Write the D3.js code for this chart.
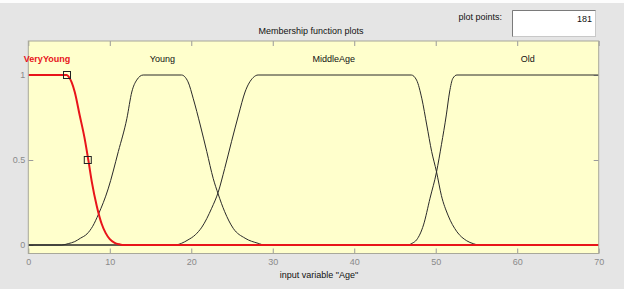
<!DOCTYPE html>
<html>
<head>
<meta charset="utf-8">
<script src="https://cdn.jsdelivr.net/npm/d3@7"></script>
<style>
  body { margin: 0; background: #e5e5e5; }
  svg { display: block; font-family: "Liberation Sans", Arial, sans-serif; }
</style>
</head>
<body>
<div id="app"></div>
<script>
// membership functions of input variable "Age"
const mfNames = ["VeryYoung", "Young", "MiddleAge", "Old"]
const mfLabelAt = [2.3, 16.45, 37.5, 61.3]

const veryYoungX = [0, 4.7, 4.95, 5.7, 6.3, 6.9, 7.4, 7.8, 8.4, 9.0, 9.5, 10.0, 10.6, 11.2, 11.7, 70]
const veryYoungY = [1, 1, 0.99, 0.90, 0.765, 0.63, 0.49, 0.37, 0.23, 0.125, 0.07, 0.035, 0.013, 0.004, 0, 0]

const youngX = [0, 4.1, 4.9, 5.7, 6.4, 7.2, 7.9, 8.6, 9.8, 11.05, 12.1, 12.7, 13.3, 14.1, 18.8, 19.6, 20.25, 21.1, 21.9, 22.7, 23.3, 24.1, 25.15, 26.6, 28.2, 29.0, 70]
const youngY = [0, 0, 0.008, 0.02, 0.04, 0.065, 0.11, 0.18, 0.33, 0.55, 0.745, 0.90, 0.97, 1, 1, 0.96, 0.86, 0.706, 0.55, 0.39, 0.30, 0.196, 0.098, 0.04, 0.01, 0, 0]

const middleAgeX = [0, 18.0, 18.8, 19.6, 20.5, 21.3, 22.5, 23.3, 24.1, 24.95, 25.8, 26.6, 27.6, 28.2, 47.0, 47.65, 48.3, 48.9, 49.5, 50.1, 50.7, 51.5, 52.6, 53.8, 54.6, 55.3, 70]
const middleAgeY = [0, 0, 0.01, 0.03, 0.06, 0.105, 0.216, 0.31, 0.45, 0.61, 0.765, 0.90, 0.985, 1, 1, 0.97, 0.86, 0.706, 0.55, 0.43, 0.29, 0.176, 0.078, 0.025, 0.008, 0, 0]

const oldX = [0, 46.6, 47.1, 47.65, 48.5, 49.3, 50.1, 50.7, 51.3, 51.7, 52.1, 52.6, 70]
const oldY = [0, 0, 0.01, 0.03, 0.118, 0.275, 0.43, 0.59, 0.765, 0.90, 0.98, 1, 1]

// handles of the selected MF
const handleX = [4.75, 7.3]
const handleY = [1, 0.5]

const xTicks = [0, 10, 20, 30, 40, 50, 60, 70]
const yTicks = [0, 0.5, 1]
const plotPoints = 181

const width = 624
const height = 289
const marginTop = 41
const marginBottom = 35.5
const marginLeft = 28.3
const marginRight = 25.3

const x = d3.scaleLinear()
  .domain([0, 70])
  .range([marginLeft, width - marginRight])

const y = d3.scaleLinear()
  .domain([-0.05, 1.2])
  .range([height - marginBottom, marginTop])

const svg = d3.select("#app")
  .append("svg")
  .attr("width", width)
  .attr("height", height)

// white strip along the top of the window
svg.append("rect")
  .attr("width", width).attr("height", 3)
  .attr("fill", "#fdfdfd")

// plot area
svg.append("rect")
  .attr("x", x(0)).attr("y", y(1.2))
  .attr("width", x(70) - x(0)).attr("height", y(-0.05) - y(1.2))
  .attr("fill", "#ffffcc")

svg.append("text")
  .attr("x", 311).attr("y", 34)
  .attr("text-anchor", "middle")
  .attr("font-size", 9)
  .attr("fill", "#111")
  .text("Membership function plots")

// plot points box
svg.append("text")
  .attr("x", 502).attr("y", 20)
  .attr("text-anchor", "end")
  .attr("font-size", 9)
  .attr("fill", "#111")
  .text("plot points:")
svg.append("rect")
  .attr("x", 512.5).attr("y", 10.5).attr("width", 83).attr("height", 26)
  .attr("fill", "#fff").attr("stroke", "#c8c8c8")
svg.append("path")
  .attr("d", "M512.5,36.5V10.5H595.5")
  .attr("fill", "none").attr("stroke", "#7a7a7a")
svg.append("text")
  .attr("x", 592).attr("y", 22)
  .attr("text-anchor", "end")
  .attr("font-size", 9)
  .attr("fill", "#111")
  .text(plotPoints)

// axes, ticks pointing inwards
const styleAxis = g => {
  g.select(".domain").remove()
  g.selectAll(".tick line").attr("stroke", "#9a9a9a")
  g.selectAll(".tick text").attr("fill", "#8a8a8a").attr("font-size", 9).attr("font-family", null)
}

svg.append("g")
  .attr("transform", `translate(0,${y(-0.05)})`)
  .call(d3.axisBottom(x).tickValues(xTicks).tickSize(-5).tickPadding(5).tickFormat(d => String(d)))
  .call(styleAxis)
svg.append("g")
  .attr("transform", `translate(0,${y(1.2)})`)
  .call(d3.axisTop(x).tickValues(xTicks).tickSize(-5).tickFormat(""))
  .call(styleAxis)
svg.append("g")
  .attr("transform", `translate(${x(0)},0)`)
  .call(d3.axisLeft(y).tickValues(yTicks).tickSize(-5).tickPadding(3).tickFormat(d => String(d)))
  .call(styleAxis)
svg.append("g")
  .attr("transform", `translate(${x(70)},0)`)
  .call(d3.axisRight(y).tickValues(yTicks).tickSize(-5).tickFormat(""))
  .call(styleAxis)

svg.append("text")
  .attr("x", 319).attr("y", 278)
  .attr("text-anchor", "middle")
  .attr("font-size", 9)
  .attr("fill", "#111")
  .text('input variable "Age"')

// curves
const line = d3.line()
  .x(d => x(d[0]))
  .y(d => y(d[1]))
  .curve(d3.curveMonotoneX)

const series = [
  d3.zip(veryYoungX, veryYoungY),
  d3.zip(youngX, youngY),
  d3.zip(middleAgeX, middleAgeY),
  d3.zip(oldX, oldY)
]
const selected = 0

series.forEach((pts, i) => {
  if (i === selected) return
  svg.append("path")
    .datum(pts)
    .attr("d", line)
    .attr("fill", "none")
    .attr("stroke", "#2a2a2a")
    .attr("stroke-width", 1)
})
svg.append("path")
  .datum(series[selected])
  .attr("d", line)
  .attr("fill", "none")
  .attr("stroke", "#e8141a")
  .attr("stroke-width", 2)

// box outline on top
svg.append("rect")
  .attr("x", x(0)).attr("y", y(1.2))
  .attr("width", x(70) - x(0)).attr("height", y(-0.05) - y(1.2))
  .attr("fill", "none").attr("stroke", "#a8a89a")

svg.selectAll(".handle")
  .data(d3.zip(handleX, handleY))
  .join("rect")
  .attr("class", "handle")
  .attr("x", d => x(d[0]) - 3.5)
  .attr("y", d => y(d[1]) - 3.5)
  .attr("width", 7).attr("height", 7)
  .attr("fill", "none")
  .attr("stroke", "#222")

svg.selectAll(".mflabel")
  .data(mfNames)
  .join("text")
  .attr("class", "mflabel")
  .attr("x", (d, i) => x(mfLabelAt[i]))
  .attr("y", y(1.1) + 3.5)
  .attr("text-anchor", "middle")
  .attr("font-size", 9)
  .attr("font-weight", (d, i) => i === selected ? "bold" : null)
  .attr("fill", (d, i) => i === selected ? "#e8141a" : "#111")
  .text(d => d)
</script>
</body>
</html>
